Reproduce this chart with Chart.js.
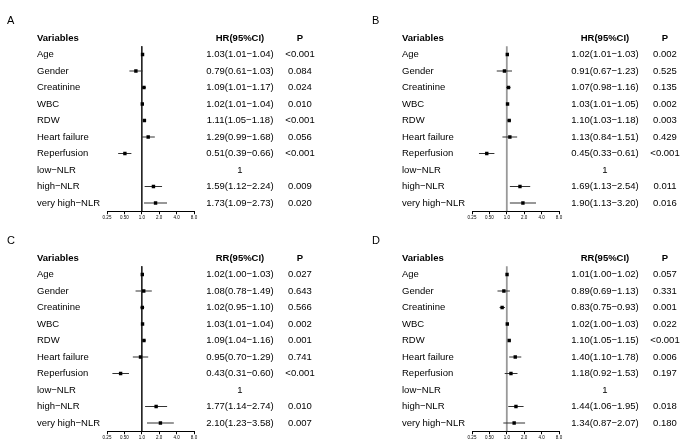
<!DOCTYPE html>
<html>
<head>
<meta charset="utf-8">
<script src="https://cdn.jsdelivr.net/npm/chart.js@4.4.1/dist/chart.umd.min.js"></script>
<style>
  html, body { margin: 0; padding: 0; background: #fff; }
  #wrap { position: relative; width: 688px; height: 447px; overflow: hidden; }
  .panel { position: absolute; width: 330px; height: 224px; }
</style>
</head>
<body>
<div id="wrap">
  <div class="panel" style="left:0px;top:0px"><canvas id="cA" width="330" height="224"></canvas></div>
  <div class="panel" style="left:365px;top:0px"><canvas id="cB" width="330" height="224"></canvas></div>
  <div class="panel" style="left:0px;top:220px"><canvas id="cC" width="330" height="224"></canvas></div>
  <div class="panel" style="left:365px;top:220px"><canvas id="cD" width="330" height="224"></canvas></div>
</div>
<script>
// ---- data ----
const variables = ['Age', 'Gender', 'Creatinine', 'WBC', 'RDW', 'Heart failure', 'Reperfusion', 'low\u2212NLR', 'high\u2212NLR', 'very high\u2212NLR'];
const xTicks = [0.25, 0.5, 1, 2, 4, 8];
const xTickLabels = ['0.25', '0.50', '1.0', '2.0', '4.0', '8.0'];

// Panel A (HR)
const estA = [1.03, 0.79, 1.09, 1.02, 1.11, 1.29, 0.51, null, 1.59, 1.73];
const loA  = [1.01, 0.61, 1.01, 1.01, 1.05, 0.99, 0.39, null, 1.12, 1.09];
const hiA  = [1.04, 1.03, 1.17, 1.04, 1.18, 1.68, 0.66, null, 2.24, 2.73];
const pA   = ['<0.001', '0.084', '0.024', '0.010', '<0.001', '0.056', '<0.001', '', '0.009', '0.020'];

// Panel B (HR)
const estB = [1.02, 0.91, 1.07, 1.03, 1.10, 1.13, 0.45, null, 1.69, 1.90];
const loB  = [1.01, 0.67, 0.98, 1.01, 1.03, 0.84, 0.33, null, 1.13, 1.13];
const hiB  = [1.03, 1.23, 1.16, 1.05, 1.18, 1.51, 0.61, null, 2.54, 3.20];
const pB   = ['0.002', '0.525', '0.135', '0.002', '0.003', '0.429', '<0.001', '', '0.011', '0.016'];

// Panel C (RR)
const estC = [1.02, 1.08, 1.02, 1.03, 1.09, 0.95, 0.43, null, 1.77, 2.10];
const loC  = [1.00, 0.78, 0.95, 1.01, 1.04, 0.70, 0.31, null, 1.14, 1.23];
const hiC  = [1.03, 1.49, 1.10, 1.04, 1.16, 1.29, 0.60, null, 2.74, 3.58];
const pC   = ['0.027', '0.643', '0.566', '0.002', '0.001', '0.741', '<0.001', '', '0.010', '0.007'];

// Panel D (RR)
const estD = [1.01, 0.89, 0.83, 1.02, 1.10, 1.40, 1.18, null, 1.44, 1.34];
const loD  = [1.00, 0.69, 0.75, 1.00, 1.05, 1.10, 0.92, null, 1.06, 0.87];
const hiD  = [1.02, 1.13, 0.93, 1.03, 1.15, 1.78, 1.53, null, 1.95, 2.07];
const pD   = ['0.057', '0.331', '0.001', '0.022', '<0.001', '0.006', '0.197', '', '0.018', '0.180'];

const refValue = 1;

// ---- drawing ----
const FONT = '"Liberation Sans", Arial, Helvetica, sans-serif';
const rowLabels = ['Variables'].concat(variables);

function fmt(v) { return v.toFixed(2); }

function makePanel(canvasId, letter, measure, est, lo, hi, pvals, refColor, refWidth) {
  const datasets = [];
  datasets.push({
    data: [{x: refValue, y: 0.5}, {x: refValue, y: rowLabels.length - 0.5}],
    showLine: true, borderColor: refColor, borderWidth: refWidth,
    pointRadius: 0, order: 3
  });
  est.forEach((e, i) => {
    if (e === null) return;
    datasets.push({
      data: [{x: lo[i], y: i + 1}, {x: hi[i], y: i + 1}],
      showLine: true, borderColor: '#333', borderWidth: 1.2,
      pointRadius: 0, order: 2
    });
  });
  datasets.push({
    data: est.map((e, i) => e === null ? null : {x: e, y: i + 1}).filter(d => d !== null),
    showLine: false, pointStyle: 'rect', pointRadius: 2.4,
    backgroundColor: '#000', borderColor: '#000', borderWidth: 0, order: 1
  });

  const textPlugin = {
    id: 'forestText',
    afterDraw(chart) {
      const ctx = chart.ctx;
      const ys = chart.scales.y;
      const ca = chart.chartArea;
      const hrX = ca.right + 46;
      const pX = ca.right + 106;
      ctx.save();
      ctx.fillStyle = '#000';
      ctx.textBaseline = 'middle';
      // panel letter
      ctx.textAlign = 'left';
      ctx.font = '11px ' + FONT;
      ctx.fillText(letter, 7, 21);
      // headers
      ctx.textAlign = 'center';
      ctx.font = 'bold 9.5px ' + FONT;
      const hy = ys.getPixelForValue(0);
      ctx.fillText(measure + '(95%CI)', hrX, hy);
      ctx.fillText('P', pX, hy);
      // rows
      ctx.font = '9.5px ' + FONT;
      est.forEach((e, i) => {
        const y = ys.getPixelForValue(i + 1);
        const txt = e === null ? '1' : fmt(e) + '(' + fmt(lo[i]) + '\u2212' + fmt(hi[i]) + ')';
        ctx.fillText(txt, hrX, y);
        if (pvals[i]) ctx.fillText(pvals[i], pX, y);
      });
      ctx.restore();
    }
  };

  new Chart(document.getElementById(canvasId), {
    type: 'scatter',
    data: { datasets },
    plugins: [textPlugin],
    options: {
      responsive: false,
      animation: false,
      devicePixelRatio: 1,
      layout: { padding: { left: 37, right: 136, top: 29.75, bottom: 0 } },
      plugins: { legend: { display: false }, tooltip: { enabled: false } },
      scales: {
        x: {
          type: 'logarithmic',
          min: 0.25, max: 8,
          afterBuildTicks: (s) => { s.ticks = xTicks.map(v => ({ value: v })); },
          afterFit: (s) => { s.height = 12.75; },
          ticks: {
            autoSkip: false, maxRotation: 0, padding: 1, color: '#000',
            font: { family: FONT, size: 4.5 },
            callback: (v) => { const k = xTicks.indexOf(v); return k >= 0 ? xTickLabels[k] : ''; }
          },
          grid: { drawOnChartArea: false, drawTicks: true, tickLength: 3, color: '#000', lineWidth: 1 },
          border: { display: true, color: '#000', width: 1 }
        },
        y: {
          type: 'linear',
          position: 'left',
          reverse: true,
          min: -0.5, max: rowLabels.length - 0.5,
          afterBuildTicks: (s) => { s.ticks = rowLabels.map((_, i) => ({ value: i })); },
          afterFit: (s) => { s.width = 70; },
          ticks: {
            autoSkip: false, padding: 0, crossAlign: 'far', color: '#000',
            font: (c) => ({ family: FONT, size: 9.5, weight: c.index === 0 ? 'bold' : 'normal' }),
            callback: (v) => rowLabels[v] !== undefined ? rowLabels[v] : ''
          },
          grid: { display: false },
          border: { display: false }
        }
      }
    }
  });
}

makePanel('cA', 'A', 'HR', estA, loA, hiA, pA, '#222', 1);
makePanel('cB', 'B', 'HR', estB, loB, hiB, pB, '#999', 1.8);
makePanel('cC', 'C', 'RR', estC, loC, hiC, pC, '#222', 1);
makePanel('cD', 'D', 'RR', estD, loD, hiD, pD, '#999', 1.8);
</script>
</body>
</html>
